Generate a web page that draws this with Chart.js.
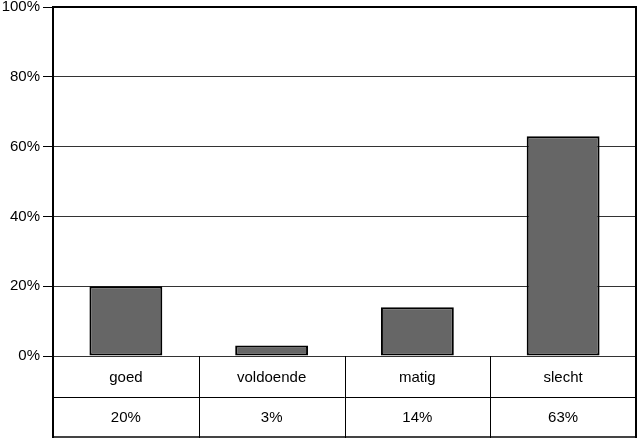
<!DOCTYPE html>
<html><head><meta charset="utf-8">
<script src="https://cdn.jsdelivr.net/npm/chart.js@4/dist/chart.umd.min.js"></script>
<style>html,body{margin:0;padding:0;background:#fff}#wrap{width:638px;height:439px}</style>
</head><body><div id="wrap"><canvas id="c" width="638" height="439"></canvas></div>
<script>
const categories = ["goed", "voldoende", "matig", "slecht"];
const values = [20, 3, 14, 63];
const valueLabels = ["20%", "3%", "14%", "63%"];
const yTicks = [0, 20, 40, 60, 80, 100];

const FONT = '"Liberation Sans", Arial, sans-serif';

const tablePlugin = {
  id: 'table',
  afterDraw(chart) {
    const ctx = chart.ctx, a = chart.chartArea, x = chart.scales.x;
    const top = a.bottom, mid = 397, bot = 436;
    ctx.save();
    ctx.strokeStyle = '#000';
    ctx.lineWidth = 1;
    ctx.beginPath();
    ctx.moveTo(a.left, mid + 0.5); ctx.lineTo(a.right, mid + 0.5);
    ctx.stroke();
    ctx.strokeStyle = '#444';
    ctx.lineWidth = 2;
    ctx.beginPath();
    ctx.moveTo(a.left, bot + 1); ctx.lineTo(a.right, bot + 1);
    ctx.stroke();
    ctx.strokeStyle = '#000';
    const n = categories.length;
    for (let i = 0; i <= n; i++) {
      let px;
      if (i === 0) px = a.left;
      else if (i === n) px = a.right;
      else px = (x.getPixelForValue(i - 1) + x.getPixelForValue(i)) / 2;
      ctx.lineWidth = (i === 0 || i === n) ? 2 : 1;
      const off = ctx.lineWidth === 1 ? 0.5 : 0;
      ctx.beginPath();
      ctx.moveTo(Math.round(px) + off, top);
      ctx.lineTo(Math.round(px) + off, bot + 2);
      ctx.stroke();
    }
    ctx.lineWidth = 2;
    ctx.beginPath();
    ctx.moveTo(a.left, a.bottom); ctx.lineTo(a.left, a.top);
    ctx.lineTo(a.right, a.top); ctx.lineTo(a.right, a.bottom);
    ctx.stroke();
    ctx.fillStyle = '#000';
    ctx.font = '15px ' + FONT;
    ctx.textAlign = 'center';
    ctx.textBaseline = 'middle';
    categories.forEach((c, i) => {
      const cx = x.getPixelForValue(i);
      ctx.fillText(c, cx, (top + mid) / 2 + 1);
      ctx.fillText(valueLabels[i], cx, (mid + bot) / 2 + 1);
    });
    ctx.restore();
  }
};

new Chart(document.getElementById('c'), {
  type: 'bar',
  data: {
    labels: categories,
    datasets: [{
      data: values,
      backgroundColor: '#666666',
      borderColor: '#000000',
      borderWidth: 2,
      borderSkipped: false,
      barPercentage: 0.5,
      categoryPercentage: 1.0
    }]
  },
  options: {
    responsive: false,
    animation: false,
    devicePixelRatio: 1,
    layout: { padding: { top: 0, right: 2, bottom: 83, left: 0 } },
    plugins: { legend: { display: false }, tooltip: { enabled: false } },
    scales: {
      x: { display: false, offset: true },
      y: {
        min: 0, max: 100,
        afterFit(s) { s.width = 53; s.paddingTop = 7; },
        afterBuildTicks(s) { s.ticks = yTicks.map(v => ({ value: v })); },
        border: { display: true, color: '#000', width: 2 },
        grid: { color: '#333', lineWidth: 1, tickLength: 10, drawTicks: true, tickColor: '#000' },
        ticks: {
          padding: 3,
          color: '#000',
          font: { family: FONT, size: 15 },
          callback: v => v + '%'
        }
      }
    }
  },
  plugins: [tablePlugin]
});
</script></body></html>
